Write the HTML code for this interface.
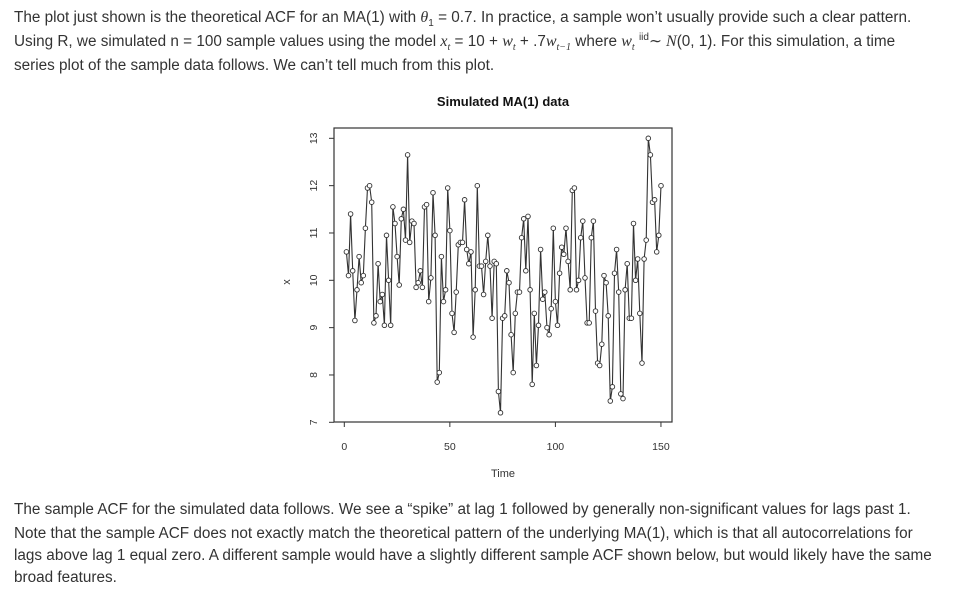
<!DOCTYPE html>
<html><head><meta charset="utf-8">
<style>
body{margin:0;width:953px;height:604px;background:#fff;overflow:hidden;position:relative;font-family:"Liberation Sans",sans-serif;color:#333;}
.l{position:absolute;left:14px;font-size:15.3px;white-space:nowrap;line-height:22px;}
i{font-family:"Liberation Serif",serif;font-size:16px;}
svg{position:absolute;left:0;top:0;}
</style></head><body>
<div class="l" style="top:7px">The plot just shown is the theoretical ACF for an MA(1) with <i>θ</i><sub style="font-size:10px">1</sub> = 0.7. In practice, a sample won’t usually provide such a clear pattern.</div>
<div class="l" style="top:31px">Using R, we simulated n = 100 sample values using the model <i>x<sub style="font-size:10px">t</sub></i> = 10 + <i>w<sub style="font-size:10px">t</sub></i> + .7<i>w<sub style="font-size:10px">t−1</sub></i> where <i>w<sub style="font-size:10px">t</sub></i> <span style="font-size:10px;position:relative;top:-6px">iid</span>∼ <i>N</i>(0, 1). For this simulation, a time</div>
<div class="l" style="top:55px">series plot of the sample data follows. We can’t tell much from this plot.</div>
<div class="l" style="top:499px">The sample ACF for the simulated data follows. We see a “spike” at lag 1 followed by generally non-significant values for lags past 1.</div>
<div class="l" style="top:523px">Note that the sample ACF does not exactly match the theoretical pattern of the underlying MA(1), which is that all autocorrelations for</div>
<div class="l" style="top:545px">lags above lag 1 equal zero. A different sample would have a slightly different sample ACF shown below, but would likely have the same</div>
<div class="l" style="top:567px">broad features.</div>
<svg id="s" width="953" height="604" font-family="Liberation Sans, sans-serif">
<text x="503" y="106" text-anchor="middle" font-weight="bold" font-size="13" fill="#111">Simulated MA(1) data</text>
<rect x="334" y="128" width="338" height="294" fill="none" stroke="#333" stroke-width="1.2"/>
<text x="503" y="477" text-anchor="middle" font-size="11" fill="#333">Time</text>
<text x="290" y="282" text-anchor="middle" font-size="11" fill="#333" transform="rotate(-90 290 282)">x</text>
</svg>
<script>
var d=[10.6,10.1,11.4,10.2,9.15,9.8,10.5,9.95,10.1,11.1,11.95,12.0,11.65,9.1,9.25,10.35,9.55,9.7,9.05,10.95,10.0,9.05,11.55,11.2,10.5,9.9,11.3,11.5,10.85,12.65,10.8,11.25,11.2,9.85,9.95,10.2,9.85,11.55,11.6,9.55,10.05,11.85,10.95,7.85,8.05,10.5,9.55,9.8,11.95,11.05,9.3,8.9,9.75,10.75,10.8,10.8,11.7,10.65,10.35,10.6,8.8,9.8,12.0,10.3,10.3,9.7,10.4,10.95,10.3,9.2,10.4,10.35,7.65,7.2,9.2,9.25,10.2,9.95,8.85,8.05,9.3,9.75,9.75,10.9,11.3,10.2,11.35,9.8,7.8,9.3,8.2,9.05,10.65,9.6,9.75,9.0,8.85,9.4,11.1,9.55,9.05,10.15,10.7,10.55,11.1,10.4,9.8,11.9,11.95,9.8,10.0,10.9,11.25,10.05,9.1,9.1,10.9,11.25,9.35,8.25,8.2,8.65,10.1,9.95,9.25,7.45,7.75,10.15,10.65,9.75,7.6,7.5,9.8,10.35,9.2,9.2,11.2,10.0,10.45,9.3,8.25,10.45,10.85,13.0,12.65,11.65,11.7,10.6,10.95,12.0];
var s=document.getElementById('s'),h='';
function X(t){return 344.3+t*2.111}function Y(v){return 422.3-(v-7)*47.33}
var p='';d.forEach(function(v,i){p+=(i?'L':'M')+X(i+1).toFixed(1)+','+Y(v).toFixed(1)});
h+='<path d="'+p+'" fill="none" stroke="#333" stroke-width="1.1"/>';
d.forEach(function(v,i){h+='<circle cx="'+X(i+1).toFixed(1)+'" cy="'+Y(v).toFixed(1)+'" r="2.3" fill="#fff" stroke="#333" stroke-width="0.9"/>'});
[0,50,100,150].forEach(function(t){var x=X(t);h+='<line x1="'+x+'" y1="422" x2="'+x+'" y2="427" stroke="#333"/><text x="'+x+'" y="450" text-anchor="middle" font-size="10.5" fill="#333">'+t+'</text>'});
for(var v=7;v<=13;v++){var y=Y(v);h+='<line x1="329" y1="'+y+'" x2="334" y2="'+y+'" stroke="#333"/><text x="317" y="'+y+'" text-anchor="middle" font-size="10.5" fill="#333" transform="rotate(-90 317 '+y+')">'+v+'</text>'}
s.insertAdjacentHTML('beforeend',h);
</script>
</body></html>
